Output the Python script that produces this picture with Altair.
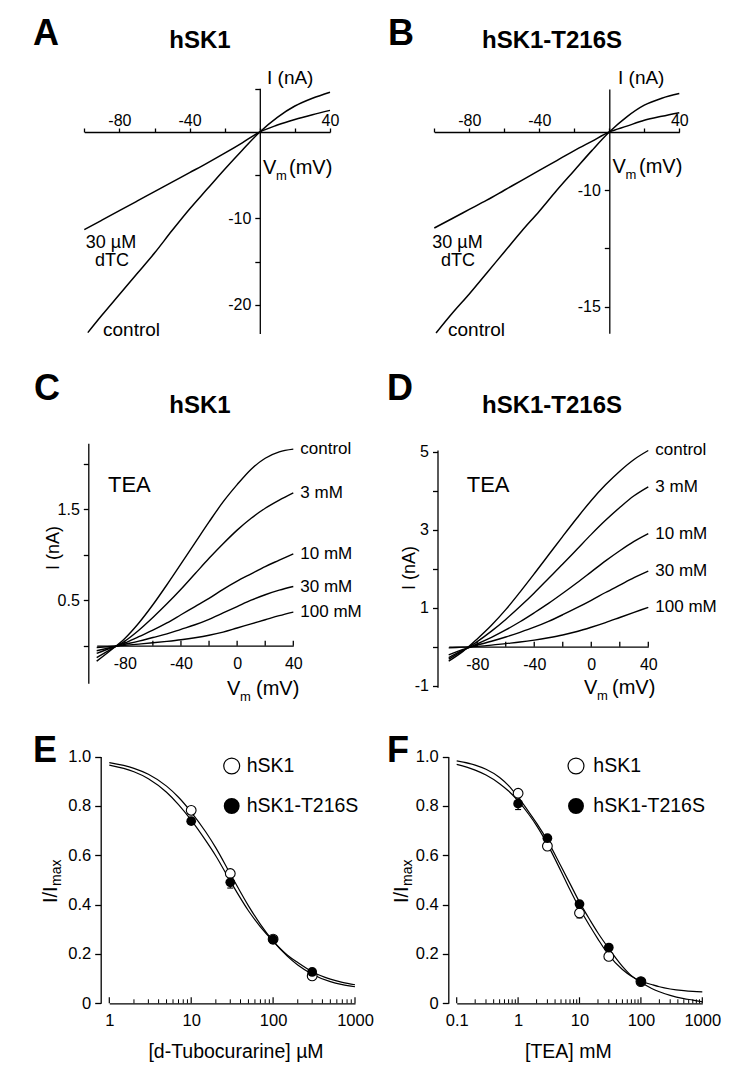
import json
import altair as alt
import pandas as pd

FONT = "Liberation Sans"
W, H = 734, 1061
MARGIN = 8


def px(v):
    return v - MARGIN


# ======================= DATA =======================
# Panel A  (hSK1, 30 uM dTC)  current in nA vs Vm in mV
A_V_control = [-98, -90, -80, -70, -60, -50, -40, -30, -20, -10, 0, 10, 20, 30, 40]
A_I_control = [-23.2, -21.2, -18.8, -16.4, -14.0, -11.4, -8.9, -6.6, -4.3, -2.1, 0.0, 1.7, 3.0, 3.9, 4.6]
A_V_dtc = [-100, -90, -80, -70, -60, -50, -40, -30, -20, -10, 0, 10, 20, 30, 40]
A_I_dtc = [-11.3, -10.2, -9.1, -8.0, -6.9, -5.8, -4.7, -3.6, -2.45, -1.25, 0.0, 0.8, 1.45, 2.0, 2.5]
A_x_ticks = [-100, -80, -60, -40, -20, 0, 20, 40]
A_x_labels = ["", "-80", "", "-40", "", "", "", "40"]
A_y_ticks = [5, -5, -10, -15, -20]
A_y_labels = ["", "", "-10", "", "-20"]

# Panel B  (hSK1-T216S, 30 uM dTC)
B_V_control = [-99, -90, -80, -70, -60, -50, -40, -30, -20, -10, 0, 10, 20, 30, 40]
B_I_control = [-17.25, -15.6, -13.9, -12.1, -10.3, -8.5, -6.8, -5.0, -3.3, -1.6, 0.0, 1.3, 2.3, 2.9, 3.3]
B_V_dtc = [-100, -90, -80, -70, -60, -50, -40, -30, -20, -10, 0, 10, 20, 30, 40]
B_I_dtc = [-8.24, -7.45, -6.65, -5.85, -5.0, -4.15, -3.3, -2.45, -1.6, -0.8, 0.0, 0.5, 1.0, 1.35, 1.66]
B_x_ticks = [-100, -80, -60, -40, -20, 0, 20, 40]
B_x_labels = ["", "-80", "", "-40", "", "", "", "40"]
B_y_ticks = [-5, -10, -15]
B_y_labels = ["-10", "", "-15"]

# Panels C / D  (TEA)
TEA_traces = ["control", "3 mM", "10 mM", "30 mM", "100 mM"]
TEA_V = [-100, -90, -80, -70, -60, -50, -40, -30, -20, -10, 0, 10, 20, 30, 40]
C_control = [-0.17, -0.05, 0.08, 0.25, 0.45, 0.67, 0.9, 1.13, 1.36, 1.58, 1.77, 1.94, 2.06, 2.13, 2.16]
C_3mM = [-0.13, -0.04, 0.05, 0.17, 0.31, 0.46, 0.62, 0.79, 0.96, 1.12, 1.27, 1.4, 1.51, 1.6, 1.68]
C_10mM = [-0.085, -0.025, 0.03, 0.1, 0.17, 0.25, 0.34, 0.43, 0.52, 0.62, 0.71, 0.79, 0.87, 0.94, 1.01]
C_30mM = [-0.055, -0.02, 0.015, 0.05, 0.09, 0.13, 0.18, 0.23, 0.29, 0.36, 0.43, 0.5, 0.56, 0.61, 0.65]
C_100mM = [-0.02, -0.008, 0.005, 0.018, 0.032, 0.048, 0.066, 0.088, 0.115, 0.15, 0.195, 0.24, 0.285, 0.33, 0.37]
D_control = [-0.37, -0.12, 0.2, 0.55, 0.95, 1.4, 1.87, 2.35, 2.83, 3.3, 3.75, 4.15, 4.5, 4.8, 5.03]
D_3mM = [-0.32, -0.1, 0.13, 0.4, 0.7, 1.03, 1.38, 1.75, 2.12, 2.5, 2.88, 3.24, 3.57, 3.87, 4.1]
D_10mM = [-0.28, -0.09, 0.07, 0.24, 0.43, 0.64, 0.87, 1.11, 1.37, 1.64, 1.92, 2.2, 2.46, 2.7, 2.9]
D_30mM = [-0.21, -0.07, 0.04, 0.14, 0.25, 0.37, 0.5, 0.65, 0.82, 1.0, 1.19, 1.39, 1.58, 1.77, 1.94]
D_100mM = [-0.03, -0.01, 0.01, 0.04, 0.08, 0.12, 0.17, 0.23, 0.3, 0.39, 0.5, 0.62, 0.75, 0.88, 1.01]
CD_x_label_values = [-80, -40, 0, 40]
CD_x_label_text = ["-80", "-40", "0", "40"]
CD_x_ticks = [-80, -60, -40, -20, 0, 20, 40]
C_y_ticks = [0, 0.5, 1.0, 1.5, 2.0]
C_y_labels = ["", "0.5", "", "1.5", ""]
D_y_ticks = [-1, 0, 1, 2, 3, 4, 5]
D_y_labels = ["-1", "", "1", "", "3", "", "5"]

# Panel E  (d-Tubocurarine, uM)
E_conc = [10, 30, 100, 300]
E_hSK1 = [0.782, 0.526, 0.26, 0.111]
E_hSK1_err = [0.012, 0.015, 0.012, 0.008]
E_T216S = [0.738, 0.49, 0.258, 0.127]
E_T216S_err = [0.012, 0.023, 0.015, 0.008]
E_fit_conc = [1, 2, 3, 5, 7, 10, 15, 20, 30, 50, 70, 100, 150, 200, 300, 500, 700, 1000]
E_fit_hSK1 = [0.975, 0.952, 0.928, 0.88, 0.835, 0.775, 0.695, 0.63, 0.525, 0.395, 0.32, 0.252,
              0.19, 0.155, 0.118, 0.088, 0.076, 0.067]
E_fit_T216S = [0.965, 0.938, 0.91, 0.855, 0.805, 0.742, 0.66, 0.597, 0.495, 0.375, 0.31, 0.252,
               0.195, 0.165, 0.128, 0.098, 0.085, 0.075]
E_major = [1, 10, 100, 1000]
E_major_labels = ["1", "10", "100", "1000"]
E_minor = [2, 3, 4, 5, 6, 7, 8, 9, 20, 30, 40, 50, 60, 70, 80, 90, 200, 300, 400, 500, 600, 700, 800, 900]

# Panel F  (TEA, mM)
F_conc = [1, 3, 10, 30, 100]
F_hSK1 = [0.851, 0.637, 0.366, 0.19, 0.088]
F_hSK1_err = [0.012, 0.012, 0.02, 0.01, 0.008]
F_T216S = [0.809, 0.669, 0.402, 0.226, 0.088]
F_T216S_err = [0.024, 0.01, 0.012, 0.01, 0.008]
F_fit_conc = [0.1, 0.2, 0.3, 0.5, 0.7, 1, 1.5, 2, 3, 5, 7, 10, 15, 20, 30, 50, 70, 100, 150, 200,
              300, 500, 700, 1000]
F_fit_hSK1 = [0.968, 0.945, 0.925, 0.89, 0.86, 0.82, 0.765, 0.72, 0.645, 0.535, 0.46, 0.385, 0.31,
              0.26, 0.195, 0.137, 0.11, 0.09, 0.076, 0.067, 0.058, 0.051, 0.048, 0.046]
F_fit_T216S = [0.982, 0.965, 0.948, 0.915, 0.882, 0.835, 0.775, 0.73, 0.66, 0.555, 0.485, 0.41,
               0.335, 0.285, 0.222, 0.15, 0.112, 0.085, 0.06, 0.047, 0.032, 0.019, 0.013, 0.006]
F_major = [0.1, 1, 10, 100, 1000]
F_major_labels = ["0.1", "1", "10", "100", "1000"]
F_minor = [0.2, 0.3, 0.4, 0.5, 0.6, 0.7, 0.8, 0.9, 2, 3, 4, 5, 6, 7, 8, 9, 20, 30, 40, 50, 60, 70,
           80, 90, 200, 300, 400, 500, 600, 700, 800, 900]

EF_y_ticks = [0, 0.2, 0.4, 0.6, 0.8, 1.0]
EF_y_labels = ["0", "0.2", "0.4", "0.6", "0.8", "1.0"]


# ======================= HELPERS =======================
def lin(d0, d1, r0, r1):
    return alt.Scale(type="linear", domain=[d0, d1], range=[px(r0), px(r1)], nice=False, zero=False)


def logsc(d0, d1, r0, r1):
    return alt.Scale(type="log", domain=[d0, d1], range=[px(r0), px(r1)], nice=False)


def pos(d0, d1, r0, r1, v):
    return r0 + (v - d0) / (d1 - d0) * (r1 - r0)


def lexpr(values, labels):
    return "%s[indexof(%s, datum.value)]" % (json.dumps(labels), json.dumps(values))


AXBASE = dict(grid=False, title="", domainColor="black", tickColor="black", labelColor="black",
              domainWidth=1.3, tickWidth=1.3, labelFont=FONT, labelFontSize=16,
              labelFlush=False, labelOverlap=False)


def axis(**kw):
    d = dict(AXBASE)
    d.update(kw)
    return alt.Axis(**d)


ONE = alt.Data(values=[{"k": 0}])


def text(s, x, y, size=19, weight="normal", align="left", baseline="alphabetic", angle=None):
    kw = dict(text=s, font=FONT, fontSize=size, fontWeight=weight, align=align,
              baseline=baseline, color="black")
    if angle:
        kw["angle"] = angle
    return alt.Chart(ONE).mark_text(**kw).encode(x=alt.value(px(x)), y=alt.value(px(y)))


def long_df(series):
    frames = []
    for name, (vv, ii) in series.items():
        frames.append(pd.DataFrame({"V": vv, "I": ii, "trace": name}))
    return pd.concat(frames, ignore_index=True)


# ======================= PANELS A / B =======================
def cross_panel(series, xr, yd, yr, x_axis_y, xt, xl, yt, yl):
    xs = lin(-100, 40, xr[0], xr[1])
    ys = lin(yd[0], yd[1], yr[0], yr[1])
    x0 = pos(-100, 40, xr[0], xr[1], 0)
    xa = axis(orient="top", offset=-px(x_axis_y), values=xt, labelExpr=lexpr(xt, xl),
              tickSize=4, labelPadding=0)
    ya = axis(orient="left", offset=-px(x0), values=yt, labelExpr=lexpr(yt, yl),
              tickSize=5, labelPadding=4)
    df = long_df(series)
    return alt.Chart(df).mark_line(color="black", strokeWidth=1.5, interpolate="monotone").encode(
        x=alt.X("V:Q", scale=xs, axis=xa),
        y=alt.Y("I:Q", scale=ys, axis=ya),
        detail="trace:N",
    )


panelA = cross_panel({"control": (A_V_control, A_I_control), "dTC": (A_V_dtc, A_I_dtc)},
                     (84.3, 330), (-23.3, 5.05), (333.5, 88.3), 132,
                     A_x_ticks, A_x_labels, A_y_ticks, A_y_labels)
panelB = cross_panel({"control": (B_V_control, B_I_control), "dTC": (B_V_dtc, B_I_dtc)},
                     (434.3, 679.3), (-17.28, 3.69), (333.3, 89.0), 132,
                     B_x_ticks, B_x_labels, B_y_ticks, B_y_labels)


# ======================= PANELS C / D =======================
def tea_panel(curves, xr, yd, yr, y_axis_x, x_axis_y, yt, yl):
    xs = lin(-100, 40, xr[0], xr[1])
    ys = lin(yd[0], yd[1], yr[0], yr[1])
    df = long_df({n: (TEA_V, c) for n, c in zip(TEA_traces, curves)})
    xa = axis(orient="bottom", offset=px(x_axis_y) - H, values=CD_x_label_values,
              labelExpr=lexpr(CD_x_label_values, CD_x_label_text), ticks=False, tickSize=0,
              labelPadding=9.5)
    ya = axis(orient="left", offset=-px(y_axis_x), values=yt, labelExpr=lexpr(yt, yl),
              tickSize=5, labelPadding=4)
    X = alt.X("V:Q", scale=xs, axis=xa)
    Y = alt.Y("I:Q", scale=ys, axis=ya)
    lines = alt.Chart(df).mark_line(color="black", strokeWidth=1.4, interpolate="monotone").encode(
        x=X, y=Y, detail="trace:N")
    tick_df = pd.DataFrame({"V": CD_x_ticks, "I": [0.0] * len(CD_x_ticks)})
    ticks = alt.Chart(tick_df).mark_rule(color="black", strokeWidth=1.3, y2Offset=-5).encode(
        x=X, y=Y, y2=alt.Y2("I:Q"))
    last = df.groupby("trace", sort=False).tail(1)
    labels = alt.Chart(last).mark_text(font=FONT, fontSize=17, align="left", baseline="middle",
                                       dx=7, color="black").encode(x=X, y=Y, text="trace:N")
    return alt.layer(lines, ticks, labels)


panelC = tea_panel([C_control, C_3mM, C_10mM, C_30mM, C_100mM],
                   (96.7, 293.3), (-0.413, 2.224), (683.3, 443.3), 88.3, 645.7,
                   C_y_ticks, C_y_labels)
panelD = tea_panel([D_control, D_3mM, D_10mM, D_30mM, D_100mM],
                   (448.7, 648.3), (-1.04, 5.04), (687.3, 450.1), 437.5, 646.7,
                   D_y_ticks, D_y_labels)


# ======================= PANELS E / F =======================
def dose_panel(xdom, xr, y_axis_x, conc, a, a_err, b, b_err, fit_c, fit_a, fit_b,
               major, major_labels, minor):
    xs = logsc(xdom[0], xdom[1], xr[0], xr[1])
    ys = lin(0, 1, 1003.3, 756.5)
    xa = axis(orient="bottom", offset=px(1003.3) - H, values=major,
              labelExpr=lexpr(major, major_labels), ticks=False, tickSize=0, labelPadding=9,
              labelFontSize=16.5)
    ya = axis(orient="left", offset=-px(y_axis_x), values=EF_y_ticks,
              labelExpr=lexpr(EF_y_ticks, EF_y_labels), tickSize=6, labelPadding=4,
              labelFontSize=16.5)

    def XX(f="c"):
        return alt.X(f + ":Q", scale=xs, axis=xa)

    def YY(f="v"):
        return alt.Y(f + ":Q", scale=ys, axis=ya)

    fit = pd.concat([pd.DataFrame({"c": fit_c, "v": fit_a, "s": "hSK1"}),
                     pd.DataFrame({"c": fit_c, "v": fit_b, "s": "hSK1-T216S"})], ignore_index=True)
    curves = alt.Chart(fit).mark_line(color="black", strokeWidth=1.2, interpolate="monotone").encode(
        x=XX(), y=YY(), detail="s:N")
    maj = pd.DataFrame({"c": major, "v": [0.0] * len(major)})
    mnr = pd.DataFrame({"c": minor, "v": [0.0] * len(minor)})
    maj_t = alt.Chart(maj).mark_rule(color="black", strokeWidth=1.2, y2Offset=-6).encode(
        x=XX(), y=YY(), y2=alt.Y2("v:Q"))
    min_t = alt.Chart(mnr).mark_rule(color="black", strokeWidth=1.0, y2Offset=-4).encode(
        x=XX(), y=YY(), y2=alt.Y2("v:Q"))

    pts = pd.concat([
        pd.DataFrame({"c": conc, "v": a, "lo": [v - e for v, e in zip(a, a_err)],
                      "hi": [v + e for v, e in zip(a, a_err)], "s": "hSK1"}),
        pd.DataFrame({"c": conc, "v": b, "lo": [v - e for v, e in zip(b, b_err)],
                      "hi": [v + e for v, e in zip(b, b_err)], "s": "hSK1-T216S"}),
    ], ignore_index=True)
    base = alt.Chart(pts)
    bars = base.mark_rule(color="black", strokeWidth=1.1).encode(x=XX(), y=YY("lo"), y2="hi:Q")
    cap_lo = base.mark_rule(color="black", strokeWidth=1.1, xOffset=-3, x2Offset=3).encode(
        x=XX(), x2="c:Q", y=YY("lo"))
    cap_hi = base.mark_rule(color="black", strokeWidth=1.1, xOffset=-3, x2Offset=3).encode(
        x=XX(), x2="c:Q", y=YY("hi"))
    open_pts = base.transform_filter(alt.datum.s == "hSK1").mark_point(
        shape="circle", filled=True, fill="white", stroke="black", strokeWidth=1.1, size=95,
        opacity=1).encode(x=XX(), y=YY())
    fill_pts = base.transform_filter(alt.datum.s == "hSK1-T216S").mark_point(
        shape="circle", filled=True, color="black", size=95, opacity=1).encode(x=XX(), y=YY())
    return alt.layer(curves, maj_t, min_t, bars, cap_lo, cap_hi, open_pts, fill_pts)


panelE = dose_panel((1, 1000), (109.3, 355), 100.7, E_conc, E_hSK1, E_hSK1_err, E_T216S,
                    E_T216S_err, E_fit_conc, E_fit_hSK1, E_fit_T216S, E_major, E_major_labels,
                    E_minor)
panelF = dose_panel((0.1, 1000), (456.7, 702.3), 448.3, F_conc, F_hSK1, F_hSK1_err, F_T216S,
                    F_T216S_err, F_fit_conc, F_fit_hSK1, F_fit_T216S, F_major, F_major_labels,
                    F_minor)


def legend_point(x, y, filled):
    if filled:
        m = alt.Chart(ONE).mark_point(shape="circle", filled=True, color="black", size=254, opacity=1)
    else:
        m = alt.Chart(ONE).mark_point(shape="circle", filled=True, fill="white", stroke="black",
                                      strokeWidth=1.2, size=254, opacity=1)
    return m.encode(x=alt.value(px(x)), y=alt.value(px(y)))


texts = [
    # A
    text("A", 33, 45, 36, "bold"),
    text("hSK1", 200, 48, 24, "bold", align="center"),
    text("I (nA)", 267, 84, 19),
    text("V", 263, 174, 20), text("m", 276, 180, 13), text("(mV)", 289, 174, 20),
    text("30 µM", 111, 248, 18, align="center"),
    text("dTC", 112, 266, 18, align="center"),
    text("control", 103, 336, 19),
    # B
    text("B", 388, 45, 36, "bold"),
    text("hSK1-T216S", 552, 48, 24, "bold", align="center"),
    text("I (nA)", 618, 83.5, 19),
    text("V", 612.5, 173, 20), text("m", 625.5, 179, 13), text("(mV)", 639, 173, 20),
    text("30 µM", 457.5, 248, 18, align="center"),
    text("dTC", 458, 266, 18, align="center"),
    text("control", 448, 336, 19),
    # C
    text("C", 34, 400, 36, "bold"),
    text("hSK1", 200, 413, 24, "bold", align="center"),
    text("I (nA)", 54, 548, 18, align="center", baseline="middle", angle=270),
    text("V", 227, 695, 20), text("m", 240, 701, 13), text("(mV)", 256, 695, 20),
    text("TEA", 108, 492, 22),
    # D
    text("D", 387, 400, 36, "bold"),
    text("hSK1-T216S", 552, 413, 24, "bold", align="center"),
    text("I (nA)", 410, 568, 18, align="center", baseline="middle", angle=270),
    text("V", 584, 694, 20), text("m", 597, 700, 13), text("(mV)", 612, 694, 20),
    text("TEA", 466.7, 492, 22),
    # E
    text("E", 33, 762, 36, "bold"),
    text("I/I", 57, 903, 20, angle=270), text("max", 60.5, 886, 14, angle=270),
    text("[d-Tubocurarine] µM", 236, 1058, 19.5, align="center"),
    legend_point(231.7, 766, False), text("hSK1", 246.7, 766, 19.5, baseline="middle"),
    legend_point(231.7, 806, True), text("hSK1-T216S", 246.7, 806, 19.5, baseline="middle"),
    # F
    text("F", 387, 762, 36, "bold"),
    text("I/I", 408.3, 903, 20, angle=270), text("max", 411.8, 886, 14, angle=270),
    text("[TEA] mM", 568.3, 1058, 19.5, align="center"),
    legend_point(576, 766, False), text("hSK1", 593.3, 766, 19.5, baseline="middle"),
    legend_point(576, 806, True), text("hSK1-T216S", 593.3, 806, 19.5, baseline="middle"),
]

chart = alt.layer(panelA, panelB, panelC, panelD, panelE, panelF, *texts).resolve_scale(
    x="independent", y="independent"
).properties(
    width=W, height=H, padding=0, autosize=alt.AutoSizeParams(type="none"),
    background="white",
).configure_view(strokeWidth=0)

chart.save("out.html", embed_options={"renderer": "svg", "actions": False})
